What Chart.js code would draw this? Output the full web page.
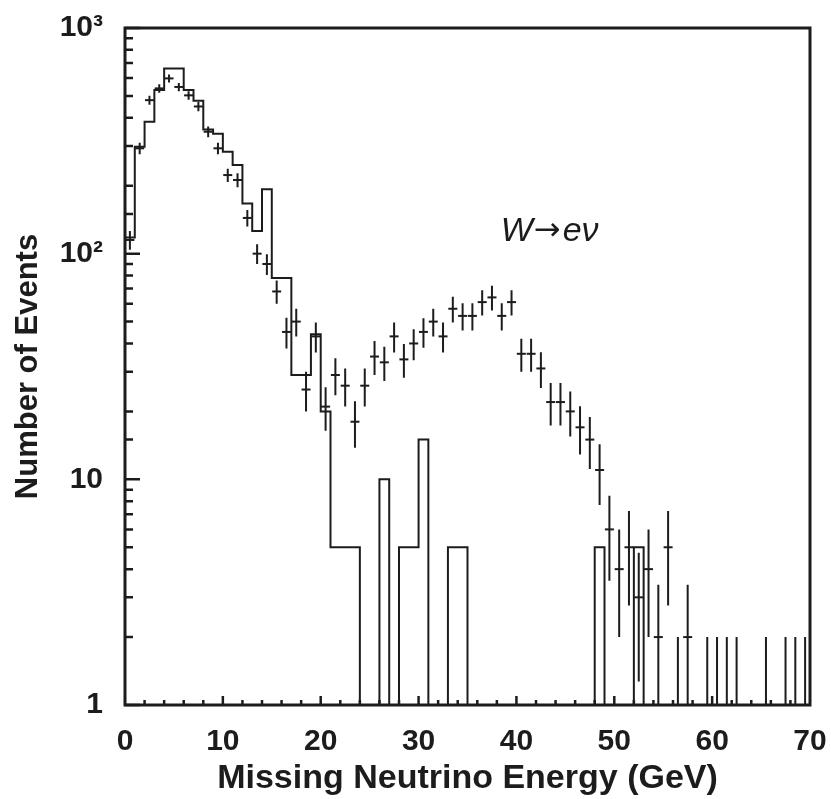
<!DOCTYPE html>
<html>
<head>
<meta charset="utf-8">
<script src="https://cdn.jsdelivr.net/npm/chart.js@4.4.0/dist/chart.umd.min.js"></script>
<style>
    html, body { margin: 0; padding: 0; background: #fff; }
</style>
</head>
<body>
<canvas id="chart" width="831" height="799"></canvas>
<script>
// Histogram (simulation) contents per 1 GeV bin, 0-70 GeV
const histCounts = [
    118, 298, 384, 531, 662, 662, 531, 476, 355, 340,
    283, 247, 167, 126, 193, 78, 78, 29, 29, 44,
    20, 5, 5, 5, 0, 0, 10, 0, 5, 5,
    15, 0, 0, 5, 5, 0, 0, 0, 0, 0,
    0, 0, 0, 0, 0, 0, 0, 0, 5, 0,
    0, 0, 5, 0, 0, 0, 0, 0, 0, 0,
    0, 0, 0, 0, 0, 0, 0, 0, 0, 0
];

// Data points per bin and their error bars
const dataCounts = [
    115, 293, 479, 540, 598, 548, 503, 449, 347, 293,
    223, 212, 144, 100, 90, 68, 45, 50, 25, 43,
    21, 29, 26, 18, 26, 35, 33, 43, 34, 40,
    45, 50, 43, 57, 53, 53, 61, 64, 53, 61,
    36, 36, 31, 22, 22, 20, 17, 15, 11, 6,
    4, 5, 3, 4, 2, 5, 1, 2, 0, 1,
    1, 1, 1, 0, 0, 1, 0, 1, 1, 1
];
const dataErrors = [
    11, 17, 22, 23, 24, 23, 22, 21, 19, 17,
    15, 15, 12, 10, 9.5, 8, 7, 7, 5, 6.5,
    4.6, 5.4, 5, 4.2, 5, 6, 5.7, 6.5, 5.8, 6.3,
    6.7, 7, 6.5, 7.5, 7.3, 7.3, 7.8, 8, 7.3, 7.8,
    6, 6, 5.6, 4.7, 4.7, 4.5, 4.1, 3.9, 3.3, 2.45,
    2, 2.24, 1.73, 2, 1.41, 2.24, 1, 1.41, 0, 1,
    1, 1, 1, 0, 0, 1, 0, 1, 1, 1
];

const xTicks = [0, 10, 20, 30, 40, 50, 60, 70];
const yTickLabels = { 1: '1', 10: '10', 100: '10²', 1000: '10³' };
const annotationParts = ['W', '\u2192', 'e\u03bd'];

const FONT = "'Liberation Sans', Arial, Helvetica, sans-serif";
const INK = '#1c1c1c';
const belowAxis = 0.1; // empty bins are drawn down to (and clipped at) the axis

const histPoints = histCounts.map((v, i) => ({ x: i, y: v > 0 ? v : belowAxis }));
histPoints.push({ x: histCounts.length, y: belowAxis });

const dataPoints = [];
dataCounts.forEach((v, i) => {
    if (v > 0) dataPoints.push({ x: i + 0.5, y: v, err: dataErrors[i] });
});

// error bars, frame, inward ticks and the W->e nu label
const decorPlugin = {
    id: 'decor',
    afterDatasetsDraw(chart) {
        const { ctx, chartArea: a, scales: { x, y } } = chart;
        ctx.save();
        ctx.strokeStyle = INK;
        ctx.lineWidth = 2;
        ctx.beginPath();
        dataPoints.forEach(p => {
            const px = x.getPixelForValue(p.x);
            const lo = p.y - p.err > 0 ? y.getPixelForValue(p.y - p.err) : a.bottom;
            const hi = y.getPixelForValue(p.y + p.err);
            ctx.moveTo(px, Math.min(lo, a.bottom));
            ctx.lineTo(px, Math.max(hi, a.top));
        });
        ctx.stroke();

        // y ticks (inside)
        ctx.lineWidth = 2.5;
        ctx.beginPath();
        y.ticks.forEach(t => {
            const py = y.getPixelForValue(t.value);
            const major = Math.abs(Math.log10(t.value) - Math.round(Math.log10(t.value))) < 1e-9;
            ctx.moveTo(a.left, py);
            ctx.lineTo(a.left + (major ? 15 : 8), py);
        });
        // x ticks every 2 GeV
        for (let v = 2; v < 70; v += 2) {
            const px = x.getPixelForValue(v);
            ctx.moveTo(px, a.bottom);
            ctx.lineTo(px, a.bottom - (v % 10 === 0 ? 9 : 5));
        }
        ctx.stroke();

        // frame
        ctx.lineWidth = 3;
        ctx.strokeRect(a.left, a.top, a.right - a.left, a.bottom - a.top);

        // label: italic letters, long arrow from DejaVu
        ctx.fillStyle = INK;
        ctx.textBaseline = 'alphabetic';
        ctx.textAlign = 'left';
        let tx = x.getPixelForValue(38.4);
        const ty = y.getPixelForValue(114);
        const fonts = ['italic 34px ' + FONT, "32px 'DejaVu Sans', sans-serif", 'italic 34px ' + FONT];
        annotationParts.forEach((txt, i) => {
            ctx.font = fonts[i];
            ctx.fillText(txt, tx, i === 1 ? ty - 1 : ty);
            tx += ctx.measureText(txt).width + (i === 0 ? 1 : 2);
        });
        ctx.restore();
    }
};

new Chart(document.getElementById('chart'), {
    type: 'scatter',
    data: {
        datasets: [
            {
                type: 'line',
                label: 'Simulation',
                data: histPoints,
                stepped: 'before',
                borderColor: INK,
                borderWidth: 2,
                pointRadius: 0,
                fill: false
            },
            {
                type: 'scatter',
                label: 'Data',
                data: dataPoints,
                pointStyle: 'line',
                pointRadius: 4.5,
                borderColor: INK,
                borderWidth: 2
            }
        ]
    },
    options: {
        responsive: false,
        animation: false,
        devicePixelRatio: 1,
        layout: { padding: { top: 28, right: 21, left: 0, bottom: 0 } },
        plugins: { legend: { display: false }, tooltip: { enabled: false } },
        scales: {
            x: {
                type: 'linear',
                min: 0,
                max: 70,
                afterBuildTicks: s => { s.ticks = xTicks.map(v => ({ value: v })); },
                ticks: { color: INK, font: { family: FONT, size: 30, weight: 'bold' }, padding: 19, maxRotation: 0 },
                grid: { display: false, drawTicks: false },
                border: { display: false },
                title: {
                    display: true,
                    text: 'Missing Neutrino Energy (GeV)',
                    color: INK,
                    font: { family: FONT, size: 34, weight: 'bold' },
                    padding: { top: 0, bottom: 0 }
                },
                afterFit: s => {
                    s.height = 94;
                    s.paddingLeft = 0;
                    s.paddingRight = 0;
                }
            },
            y: {
                type: 'logarithmic',
                min: 1,
                max: 1000,
                ticks: {
                    autoSkip: false,
                    color: INK,
                    font: { family: FONT, size: 30, weight: 'bold' },
                    padding: 22,
                    callback: v => yTickLabels[v] || ''
                },
                grid: { display: false, drawTicks: false },
                border: { display: false },
                title: {
                    display: true,
                    text: 'Number of Events',
                    color: INK,
                    font: { family: FONT, size: 31, weight: 'bold' },
                    padding: { top: 10, bottom: 0 }
                },
                afterFit: s => {
                    s.width = 125;
                    s.paddingTop = 0;
                    s.paddingBottom = 0;
                }
            }
        }
    },
    plugins: [decorPlugin]
});
</script>
</body>
</html>
